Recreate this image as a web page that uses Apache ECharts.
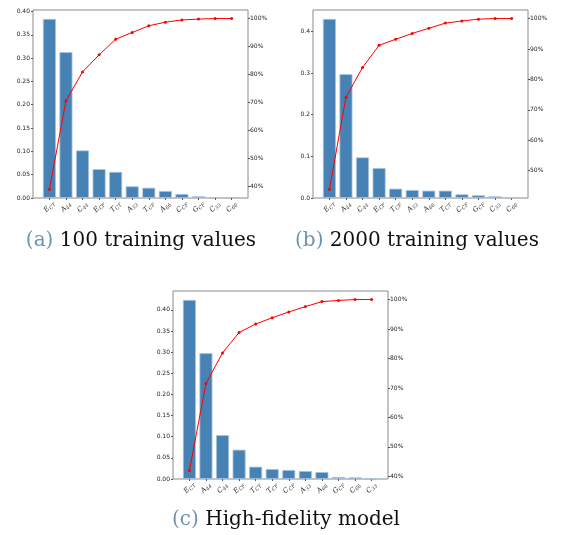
<!DOCTYPE html>
<html>
<head>
<meta charset="utf-8">
<script src="https://cdn.jsdelivr.net/npm/echarts@6/dist/echarts.min.js"></script>
<style>
  html, body { margin: 0; padding: 0; background: #fff; }
  #main { width: 563px; height: 535px; }
</style>
</head>
<body>
<div id="main"></div>
<script>
// parameter names, subscript after the underscore
var namesA = ['E_CT', 'A_44', 'C_44', 'E_CF', 'T_CT', 'A_33', 'T_CF', 'A_66', 'C_CF', 'G_CF', 'C_33', 'C_66'];
var namesB = ['E_CT', 'A_44', 'C_44', 'E_CF', 'T_CF', 'A_33', 'A_66', 'T_CT', 'C_CF', 'G_CF', 'C_33', 'C_66'];
var namesC = ['E_CT', 'A_44', 'C_44', 'E_CF', 'T_CT', 'T_CF', 'C_CF', 'A_33', 'A_66', 'G_CF', 'C_66', 'C_33'];

// sensitivity indices (bars)
var valuesA = [0.384, 0.313, 0.102, 0.062, 0.056, 0.025, 0.022, 0.015, 0.0086, 0.0036, 0.002, 0.002];
var valuesB = [0.4295, 0.297, 0.0974, 0.0719, 0.0224, 0.0192, 0.0176, 0.0176, 0.0088, 0.0064, 0.004, 0.0005];
var valuesC = [0.4236, 0.2976, 0.1039, 0.0693, 0.0291, 0.0236, 0.0213, 0.0189, 0.0165, 0.0047, 0.0039, 0.0008];

// cumulative share in % (red line)
var cumulA = [38.8, 70.5, 80.9, 87.0, 92.6, 95.0, 97.4, 98.7, 99.5, 99.8, 100, 100];
var cumulB = [43.8, 74.1, 83.9, 91.2, 93.2, 95.1, 96.8, 98.5, 99.2, 99.8, 100, 100];
var cumulC = [42.0, 71.5, 81.9, 88.8, 91.7, 93.8, 95.8, 97.6, 99.3, 99.7, 100, 100];

// tick labels
var leftTicksA = [0, 0.05, 0.10, 0.15, 0.20, 0.25, 0.30, 0.35, 0.40];
var leftTicksB = [0, 0.1, 0.2, 0.3, 0.4];
var leftTicksC = [0, 0.05, 0.10, 0.15, 0.20, 0.25, 0.30, 0.35, 0.40];
var rightTicksA = [40, 50, 60, 70, 80, 90, 100];
var rightTicksB = [50, 60, 70, 80, 90, 100];
var rightTicksC = [40, 50, 60, 70, 80, 90, 100];

var captions = [
  ['(a)', '100 training values'],
  ['(b)', '2000 training values'],
  ['(c)', 'High-fidelity model']
];

var panels = [
  { names: namesA, values: valuesA, cumul: cumulA, lt: leftTicksA, rt: rightTicksA, dec: 2, box: [33, 10], cap: [141, 241] },
  { names: namesB, values: valuesB, cumul: cumulB, lt: leftTicksB, rt: rightTicksB, dec: 1, box: [313, 10], cap: [417, 241] },
  { names: namesC, values: valuesC, cumul: cumulC, lt: leftTicksC, rt: rightTicksC, dec: 2, box: [173, 291], cap: [286, 520] }
];

var idx = [0, 1, 2, 3, 4, 5, 6, 7, 8, 9, 10, 11];
var tickFont = { fontFamily: 'DejaVu Sans', fontSize: 6, color: '#222' };

var option = { animation: false, backgroundColor: '#fff', grid: [], xAxis: [], yAxis: [], series: [], graphic: [] };

panels.forEach(function (p, g) {
  option.grid.push({
    left: p.box[0], top: p.box[1], width: 215, height: 188,
    show: true, borderColor: '#8a8a8a', borderWidth: 1, backgroundColor: 'transparent'
  });
  option.xAxis.push({
    type: 'value', gridIndex: g, min: -0.99, max: 11.99,
    splitLine: { show: false },
    axisLine: { show: false, onZero: false },
    axisTick: { show: true, length: 2, customValues: idx, lineStyle: { color: '#555' } },
    axisLabel: {
      customValues: idx, rotate: 45, align: 'center', verticalAlign: 'middle', margin: 9,
      formatter: function (v) {
        var s = p.names[Math.round(v)].split('_');
        return '{m|' + s[0] + '}{s|' + s[1] + '}';
      },
      rich: {
        m: { fontFamily: 'DejaVu Serif', fontStyle: 'italic', fontSize: 7, color: '#333' },
        s: { fontFamily: 'DejaVu Serif', fontStyle: 'italic', fontSize: 5, color: '#333', padding: [4, 0, 0, 0] }
      }
    }
  });
  var hi = Math.max.apply(null, p.values);
  var lo2 = Math.min.apply(null, p.cumul), hi2 = Math.max.apply(null, p.cumul);
  var pad = (hi2 - lo2) * 0.05;
  option.yAxis.push({
    type: 'value', gridIndex: g, position: 'left', min: 0, max: hi * 1.05,
    splitLine: { show: false }, axisLine: { show: false, onZero: false },
    axisTick: { show: true, length: 2, customValues: p.lt, lineStyle: { color: '#555' } },
    axisLabel: Object.assign({ customValues: p.lt, margin: 3, formatter: function (v) { return v.toFixed(p.dec); } }, tickFont)
  });
  option.yAxis.push({
    type: 'value', gridIndex: g, position: 'right', min: lo2 - pad, max: hi2 + pad,
    splitLine: { show: false }, axisLine: { show: false, onZero: false },
    axisTick: { show: true, length: 2, customValues: p.rt, lineStyle: { color: '#555' } },
    axisLabel: Object.assign({ customValues: p.rt, margin: 2, formatter: function (v) { return Math.round(v) + '%'; } }, tickFont)
  });
  option.series.push({
    type: 'bar', xAxisIndex: g, yAxisIndex: 2 * g, barWidth: 13,
    itemStyle: { color: '#4682b4', borderColor: '#a9c4de', borderWidth: 0.8 },
    data: p.values.map(function (v, i) { return [i, v]; })
  });
  option.series.push({
    type: 'line', xAxisIndex: g, yAxisIndex: 2 * g + 1,
    symbol: 'circle', symbolSize: 3,
    lineStyle: { color: '#ff0000', width: 1 },
    itemStyle: { color: '#ff0000' },
    data: p.cumul.map(function (v, i) { return [i, v]; })
  });
  option.graphic.push({
    type: 'text', x: p.cap[0], y: p.cap[1],
    style: {
      text: '{t|' + captions[g][0] + '} ' + captions[g][1],
      textAlign: 'center', textVerticalAlign: 'middle',
      fontFamily: 'DejaVu Serif', fontSize: 20, fill: '#111',
      rich: { t: { fontFamily: 'DejaVu Serif', fontSize: 20, fill: '#6f93b0', color: '#6f93b0' } }
    }
  });
});

var chart = echarts.init(document.getElementById('main'));
chart.setOption(option);
</script>
</body>
</html>
